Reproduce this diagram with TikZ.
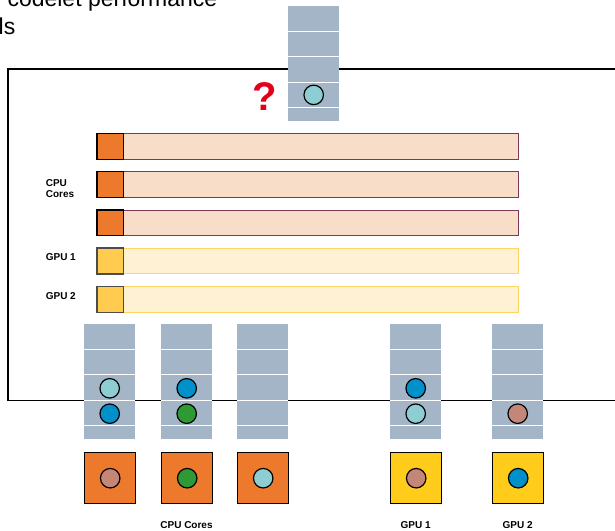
\documentclass[tikz,border=0pt]{standalone}
\usepackage{fontspec}
\setmainfont{Liberation Sans}
\usetikzlibrary{calc}
\definecolor{qfill}{RGB}{163,181,199}
\definecolor{corange}{RGB}{237,122,44}
\definecolor{peach}{RGB}{248,221,200}
\definecolor{maroon}{RGB}{122,58,88}
\definecolor{ysmall}{RGB}{255,204,80}
\definecolor{ybar}{RGB}{255,242,212}
\definecolor{yborder}{RGB}{255,214,100}
\definecolor{ybig}{RGB}{255,204,28}
\definecolor{tealc}{RGB}{140,206,210}
\definecolor{bluec}{RGB}{0,145,202}
\definecolor{greenc}{RGB}{46,154,51}
\definecolor{salmonc}{RGB}{196,134,120}
\definecolor{qred}{RGB}{227,0,27}
\begin{document}
\begin{tikzpicture}[x=1pt,y=-1pt,
  queue/.style={fill=qfill, draw=none, minimum width=51pt, minimum height=114.6pt, inner sep=0pt, anchor=north west},
  sep/.style={white, line width=1pt},
  tok/.style={circle, draw=black, line width=1.2pt, minimum size=19.5pt, inner sep=0pt},
  cpusq/.style={fill=corange, draw=black, line width=0.8pt, minimum width=26pt, minimum height=25.5pt, inner sep=0pt, anchor=north west},
  gpusq/.style={fill=ysmall, draw=black!70, line width=0.8pt, minimum width=26pt, minimum height=25.5pt, inner sep=0pt, anchor=north west},
  cpubar/.style={fill=peach, draw=maroon, line width=0.9pt, minimum width=395pt, minimum height=25.5pt, inner sep=0pt, anchor=north west},
  gpubar/.style={fill=ybar, draw=yborder, line width=0.9pt, minimum width=395pt, minimum height=25.5pt, inner sep=0pt, anchor=north west},
  bigcpu/.style={fill=corange, draw=black, line width=1.4pt, minimum size=51pt, inner sep=0pt, anchor=north west},
  biggpu/.style={fill=ybig, draw=black, line width=1.4pt, minimum size=51pt, inner sep=0pt, anchor=north west},
  lab/.style={font=\bfseries\fontsize{10}{10.5}\selectfont, inner sep=0pt},
]
\useasboundingbox (0,0) rectangle (615,530);

% title text (cropped)
\node[anchor=base west, inner sep=0pt, font=\fontsize{23}{26}\selectfont] (title1) at (7.3,6) {codelet performance};
\node[anchor=base west, inner sep=0pt, font=\fontsize{23}{26}\selectfont] (title2) at (-1.5,34.3) {ls};

% big frame
\draw[line width=1.3pt] (8,69) rectangle (640,400.8);

% question mark
\node[anchor=base, inner sep=0pt, text=qred, font=\bfseries\fontsize{40}{40}\selectfont] (qm) at (265,110) {?};

% queues
\newcommand{\drawqueue}[3]{%
  \node[queue] (#1) at (#2,#3) {};
  \foreach \k in {1,2,3,4}{
    \draw[sep] ($(#1.north west)+(0,25.4*\k)$) -- ($(#1.north east)+(0,25.4*\k)$);
  }
}
\drawqueue{qtop}{288}{6}
\drawqueue{qc1}{84}{324}
\drawqueue{qc2}{161}{324}
\drawqueue{qc3}{237}{324}
\drawqueue{qg1}{390}{324}
\drawqueue{qg2}{492}{324}

% tokens in queues
\node[tok, fill=tealc] (ttop) at ($(qtop.north)+(0,88.9)$) {};
\node[tok, fill=tealc] (tc1a) at ($(qc1.north)+(0,64.3)$) {};
\node[tok, fill=bluec] (tc1b) at ($(qc1.north)+(0,89.7)$) {};
\node[tok, fill=bluec] (tc2a) at ($(qc2.north)+(0,64.3)$) {};
\node[tok, fill=greenc] (tc2b) at ($(qc2.north)+(0,89.7)$) {};
\node[tok, fill=bluec] (tg1a) at ($(qg1.north)+(0,64.3)$) {};
\node[tok, fill=tealc] (tg1b) at ($(qg1.north)+(0,89.7)$) {};
\node[tok, fill=salmonc] (tg2b) at ($(qg2.north)+(0,89.7)$) {};

% bars
\node[cpusq] (s1) at (96.7,133.2) {};
\node[cpubar] (b1) at (122.7,133.2) {};
\node[cpusq] (s2) at (96.7,171.2) {};
\node[cpubar] (b2) at (122.7,171.2) {};
\node[cpusq] (s3) at (96.7,209.5) {};
\node[cpubar] (b3) at (122.7,209.5) {};
\node[gpusq] (s4) at (96.7,247.8) {};
\node[gpubar] (b4) at (122.7,247.8) {};
\node[gpusq] (s5) at (96.7,286.1) {};
\node[gpubar] (b5) at (122.7,286.1) {};
\draw[black, line width=0.8pt] (s1.north west) rectangle (s1.south east);
\draw[black, line width=0.8pt] (s2.north west) rectangle (s2.south east);
\draw[black, line width=0.8pt] (s3.north west) rectangle (s3.south east);
\draw[black!70, line width=0.8pt] (s4.north west) rectangle (s4.south east);
\draw[black!70, line width=0.8pt] (s5.north west) rectangle (s5.south east);

% left labels
\node[lab, anchor=west, align=left] (lcpu) at (45.6,188.5) {CPU\\Cores};
\node[lab, anchor=base west] (lg1) at (45.6,260.7) {GPU 1};
\node[lab, anchor=base west] (lg2) at (45.6,299) {GPU 2};

% processing units
\node[bigcpu] (pc1) at (84,452) {};
\node[bigcpu] (pc2) at (161,452) {};
\node[bigcpu] (pc3) at (237,452) {};
\node[biggpu] (pg1) at (390,452) {};
\node[biggpu] (pg2) at (492,452) {};
\node[tok, fill=salmonc] (upc1) at (pc1.center) {};
\node[tok, fill=greenc] (upc2) at (pc2.center) {};
\node[tok, fill=tealc] (upc3) at (pc3.center) {};
\node[tok, fill=salmonc] (upg1) at (pg1.center) {};
\node[tok, fill=bluec] (upg2) at (pg2.center) {};

% bottom labels
\node[lab, anchor=base] (bcpu) at (186.5,528.7) {CPU Cores};
\node[lab, anchor=base] (bg1) at (415.7,528.7) {GPU 1};
\node[lab, anchor=base] (bg2) at (517.7,528.7) {GPU 2};
\end{tikzpicture}
\end{document}
